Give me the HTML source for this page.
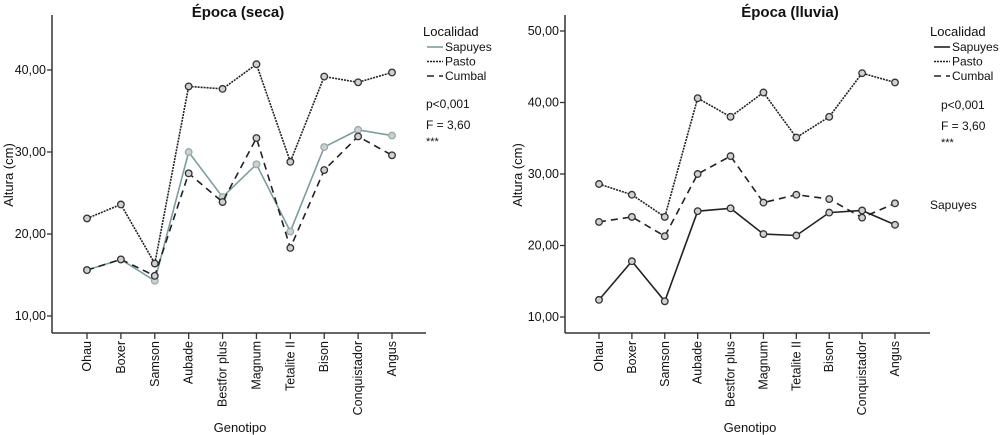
<!DOCTYPE html>
<html><head><meta charset="utf-8"><style>
body{margin:0;background:#fff;}
svg{display:block;font-family:"Liberation Sans",sans-serif;}
</style></head><body>
<svg id="c" width="1000" height="435"></svg>
<script>
const categories=["Ohau","Boxer","Samson","Aubade","Bestfor plus","Magnum","Tetalite II","Bison","Conquistador","Angus"];
const secaSapuyes=[15.6,16.9,14.3,30.0,24.5,28.5,20.3,30.6,32.7,32.0];
const secaPasto=[21.9,23.6,16.4,38.0,37.7,40.7,28.8,39.2,38.5,39.7];
const secaCumbal=[15.6,16.9,14.9,27.4,23.9,31.7,18.3,27.8,31.9,29.6];
const lluviaSapuyes=[12.4,17.8,12.2,24.8,25.2,21.6,21.4,24.6,24.9,22.9];
const lluviaPasto=[28.6,27.1,24.0,40.6,38.0,41.4,35.1,38.0,44.1,42.8];
const lluviaCumbal=[23.3,24.0,21.3,30.0,32.5,26.0,27.1,26.5,23.9,25.9];
const secaTicks=[10,20,30,40];
const lluviaTicks=[10,20,30,40,50];

const NS="http://www.w3.org/2000/svg";
const svg=document.getElementById('c');
function mk(t,a,p){const e=document.createElementNS(NS,t);for(const k in a)e.setAttribute(k,a[k]);(p||svg).appendChild(e);return e;}
function txt(s,a,p){const e=mk('text',a,p);e.textContent=s;return e;}

function panel(cfg){
  const g=mk('g',{});
  
  
  const x=i=>cfg.x0+i*(cfg.x1-cfg.x0)/(categories.length-1);
  const y=v=>cfg.y10-(v-10)*cfg.ppu;
  const ya=mk('line',{x1:cfg.ax,y1:cfg.axTop,x2:cfg.ax,y2:333,stroke:'#333','stroke-width':1.5},g);
  
  const xa=mk('line',{x1:cfg.ax,y1:333,x2:cfg.axRight,y2:333,stroke:'#333','stroke-width':1.5},g);
  
  cfg.ticks.forEach(t=>{
    mk('line',{x1:cfg.ax-5,y1:y(t),x2:cfg.ax,y2:y(t),stroke:'#333','stroke-width':1.3},g);
    const l=txt(t.toFixed(2).replace('.',','),{x:cfg.ax-6,y:y(t)+4,'text-anchor':'end','font-size':12.5,fill:'#111'},g);
    
  });
  categories.forEach((c,i)=>{
    mk('line',{x1:x(i),y1:333,x2:x(i),y2:339,stroke:'#333','stroke-width':1.3},g);
    const l=txt(c,{x:0,y:0,'text-anchor':'end','font-size':12.5,fill:'#111',transform:`translate(${x(i)+4},341) rotate(-90)`},g);
    
  });
  const series=[
    {d:cfg.sap,dash:'',col:cfg.sapCol,n:'sapuyes'},
    {d:cfg.cum,dash:'7,5',col:'#222',n:'cumbal'},
    {d:cfg.pas,dash:'2,1',col:'#222',n:'pasto'}];
  series.forEach(s=>{
    const p=mk('polyline',{points:s.d.map((v,i)=>x(i)+','+y(v)).join(' '),fill:'none',stroke:s.col,'stroke-width':1.6,'stroke-dasharray':s.dash},g);
    
    s.d.forEach((v,i)=>{
      const c=mk('circle',{cx:x(i),cy:y(v),r:3.3,fill:'#d0d0d0',stroke:s.n==='sapuyes'?cfg.sapMk:'#333','stroke-width':1.3},g);
      
    });
  });
  const tt=txt(cfg.title,{x:cfg.tx,y:17,'text-anchor':'middle','font-size':15,'font-weight':'bold',fill:'#111'},g);
  
  const yt=txt('Altura (cm)',{x:0,y:0,'text-anchor':'middle','font-size':13,fill:'#111',transform:`translate(${cfg.ytx},175) rotate(-90)`},g);
  
  const xt=txt('Genotipo',{x:cfg.xtx,y:432,'text-anchor':'middle','font-size':13,fill:'#111'},g);
  
  const lg=mk('g',{},g);
  
  txt('Localidad',{x:cfg.lx,y:cfg.ly,'font-size':13,fill:'#111'},lg);
  const L=[['Sapuyes','',cfg.sapCol],['Pasto','2,1','#222'],['Cumbal','7,5','#222']];
  L.forEach((e,k)=>{
    const yy=cfg.ly+15+k*14.5;
    mk('line',{x1:cfg.lx+4,y1:yy-4,x2:cfg.lx+20,y2:yy-4,stroke:e[2],'stroke-width':1.6,'stroke-dasharray':e[1]},lg);
    const t=txt(e[0],{x:cfg.lx+22,y:yy,'font-size':12,fill:'#111'},lg);
    
  });
  const st=mk('g',{},g);
  
  txt('p<0,001',{x:cfg.sx,y:cfg.sy,'font-size':12,fill:'#111'},st);
  txt('F = 3,60',{x:cfg.sx,y:cfg.sy+21,'font-size':12,fill:'#111'},st);
  txt('***',{x:cfg.sx,y:cfg.sy+37,'font-size':11,fill:'#111'},st);
}
panel({name:'panel-seca',title:'Época (seca)',x0:87,x1:392,y10:316,ppu:8.2,ax:52,axTop:15,axRight:426,ticks:secaTicks,
  sap:secaSapuyes,pas:secaPasto,cum:secaCumbal,sapCol:'#7f9c9c',sapMk:'#9aa',tx:238,ytx:13,xtx:240,lx:423,ly:36,sx:426,sy:108});
panel({name:'panel-lluvia',title:'Época (lluvia)',x0:599,x1:895,y10:317,ppu:7.15,ax:565,axTop:15,axRight:930,ticks:lluviaTicks,
  sap:lluviaSapuyes,pas:lluviaPasto,cum:lluviaCumbal,sapCol:'#222',sapMk:'#333',tx:790,ytx:522,xtx:750,lx:930,ly:36,sx:941,sy:109});
const sn=txt('Sapuyes',{x:930,y:209,'font-size':12,fill:'#111'});


</script>
</body></html>
